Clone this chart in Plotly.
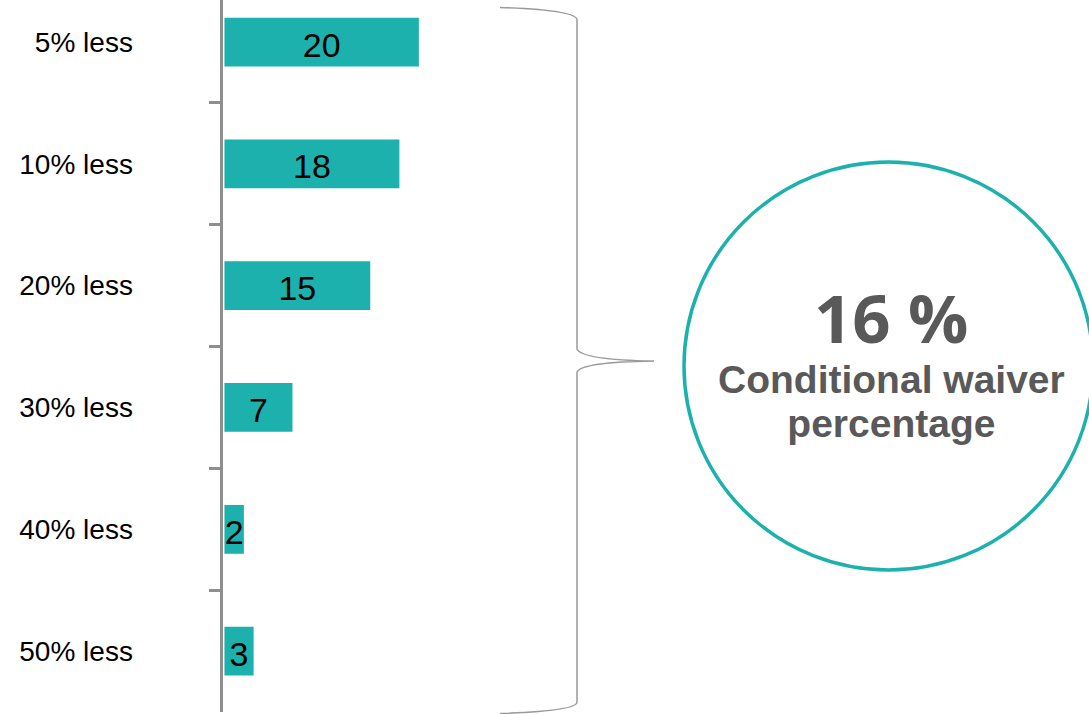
import plotly.graph_objects as go

# ---- data ----
categories = ["5% less", "10% less", "20% less", "30% less", "40% less", "50% less"]
values = [20, 18, 15, 7, 2, 3]
big_value = "16 %"
big_caption = ["Conditional waiver", "percentage"]

W, H = 1089, 714
TEAL = "#1CB1AD"
GREY_AX = "#8E8E8E"
TEXT_GREY = "#595959"

Y_RANGE = [5.5, -0.345]
LABEL_SHIFT = 0.05  # value labels sit slightly below bar centre


def px(x):
    return x / W


def py(y):
    return 1 - y / H


def P(x, y):
    return f"{px(x):.5f},{py(y):.5f}"


fig = go.Figure()
fig.add_trace(go.Bar(
    y=categories,
    x=values,
    orientation="h",
    marker=dict(color=TEAL, line=dict(width=0)),
    width=0.4,
    hoverinfo="skip",
))
fig.add_trace(go.Scatter(
    y=categories,
    x=[v / 2 for v in values],
    yaxis="y2",
    mode="text",
    text=[str(v) for v in values],
    textposition="middle center",
    textfont=dict(family="Liberation Sans, Arial", size=34, color="#000000"),
    hoverinfo="skip",
    cliponaxis=False,
))

fig.update_layout(
    width=W, height=H,
    margin=dict(l=0, r=0, t=0, b=0),
    paper_bgcolor="white",
    plot_bgcolor="white",
    showlegend=False,
    xaxis=dict(
        domain=[222.5 / W, 1],
        range=[-0.2, 88.95],
        visible=False,
        fixedrange=True,
    ),
    yaxis=dict(
        domain=[1 - 712 / H, 1],
        type="category",
        categoryorder="array",
        categoryarray=categories,
        range=Y_RANGE,
        showline=True,
        linecolor=GREY_AX,
        linewidth=3,
        ticks="outside",
        tickson="boundaries",
        ticklen=11,
        tickwidth=3,
        tickcolor=GREY_AX,
        showgrid=False,
        zeroline=False,
        ticklabelstandoff=81,
        tickfont=dict(family="Liberation Sans, Arial", size=28, color="#000000"),
        automargin=False,
        fixedrange=True,
    ),
    yaxis2=dict(
        overlaying="y",
        type="category",
        categoryorder="array",
        categoryarray=categories,
        range=[Y_RANGE[0] - LABEL_SHIFT, Y_RANGE[1] - LABEL_SHIFT],
        visible=False,
        fixedrange=True,
    ),
)

# brace
brace = (
    f"M {P(500, 7.5)} Q {P(577, 10)} {P(577, 20)} "
    f"L {P(577, 349)} Q {P(582, 360)} {P(654, 361)} "
    f"Q {P(582, 362)} {P(577, 372)} "
    f"L {P(577, 702)} Q {P(577, 711)} {P(500, 713.5)}"
)
fig.add_shape(type="path", xref="paper", yref="paper", path=brace,
              line=dict(color="#9A9A9A", width=1.5))

# circle
fig.add_shape(type="circle", xref="paper", yref="paper",
              x0=px(684), x1=px(1093), y0=py(570), y1=py(162),
              line=dict(color=TEAL, width=3.5), fillcolor="rgba(0,0,0,0)")

fig.add_annotation(x=px(891), y=py(317), xref="paper", yref="paper",
                   text=f"<b>{big_value}</b>", showarrow=False,
                   xanchor="center", yanchor="middle", height=60,
                   font=dict(family="Open Sans", size=67, color=TEXT_GREY))
caption = "<br>".join(
    f"<b><span style='font-size:39px'>{line}</span></b>" for line in big_caption
)
fig.add_annotation(x=px(891), y=py(401), xref="paper", yref="paper",
                   text=caption, showarrow=False,
                   xanchor="center", yanchor="middle",
                   font=dict(family="Liberation Sans", size=33.8, color=TEXT_GREY))

fig.write_html(
    "out.html",
    config={"displayModeBar": False},
    post_script="document.body.style.margin='0';document.body.style.overflow='hidden';",
)
